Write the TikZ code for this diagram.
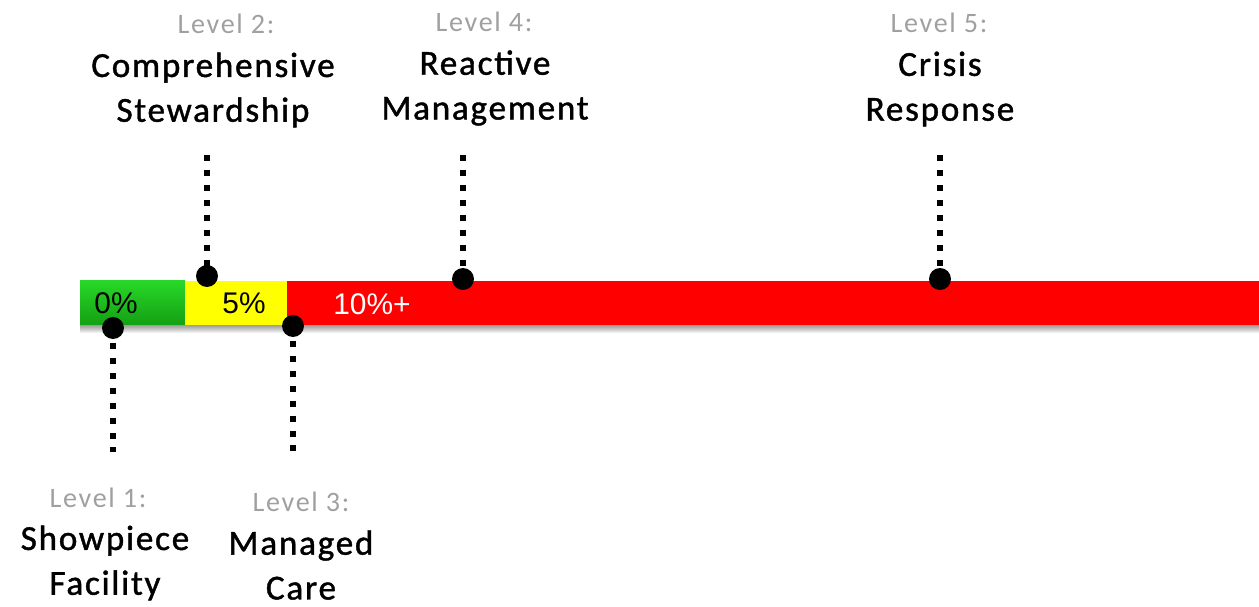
\documentclass[tikz,border=0pt]{standalone}
\usepackage{fontspec}
\setmainfont[LetterSpace=6]{Carlito}
\newfontfamily\namefont[LetterSpace=5, FakeBold=1.2]{Carlito}
\newfontfamily\pctfont{Liberation Sans}
\usetikzlibrary{positioning}

\definecolor{lowgreen}{RGB}{40,215,40}
\definecolor{darkgreen}{RGB}{20,160,20}
\definecolor{midyellow}{RGB}{255,255,0}
\definecolor{highred}{RGB}{255,0,0}
\definecolor{taggray}{RGB}{160,160,160}

\tikzset{
	leveltag/.style={text=taggray, font=\fontsize{16}{19}\selectfont, inner sep=0pt},
	levelname/.style={align=center, font=\namefont\fontsize{20}{25.5}\selectfont, inner sep=0pt},
	pct/.style={font=\pctfont\fontsize{17}{20}\selectfont, inner sep=0pt},
	pin/.style={circle, fill=black, minimum size=12.5pt, inner sep=0pt},
	dotline/.style={line width=3.4pt, dash pattern=on 3.4pt off 5.1pt}
}

\begin{document}
\begin{tikzpicture}[x=0.02cm, y=-0.02cm]
	\useasboundingbox (0,0) rectangle (1259,607);

	% Shadow under the bar
	\foreach \i in {1,...,8}
		\fill[black, opacity=0.06] (80,281+\i) rectangle (1259,325+\i);

	% Draw bar
	\shade[top color=lowgreen, bottom color=darkgreen] (80,281) rectangle (185,325);
	\fill[midyellow] (185,281) rectangle (287,325);
	\fill[highred] (287,281) rectangle (1259,325);

	% Percent labels
	\node[pct] (p0) at (116,303) {0\%};
	\node[pct] (p5) at (244,303) {5\%};
	\node[pct, text=white] (p10) at (372,304) {10\%+};

	% Pins on the bar
	\node[pin] (d1) at (113,328) {};
	\node[pin] (d2) at (207,276) {};
	\node[pin] (d3) at (293,326) {};
	\node[pin] (d4) at (463,279) {};
	\node[pin] (d5) at (940,279) {};

	% Ends of the dotted lines
	\coordinate (e1) at (113,452);
	\coordinate (e2) at (207,155);
	\coordinate (e3) at (293,452);
	\coordinate (e4) at (463,155);
	\coordinate (e5) at (940,155);

	\draw[dotline] (e2) -- (d2.center);
	\draw[dotline] (e4) -- (d4.center);
	\draw[dotline] (e5) -- (d5.center);
	\draw[dotline] (d1.center) -- (e1);
	\draw[dotline] (d3.center) -- (e3);

	% Labels above
	\node[leveltag] (t2) at (226,24) {Level 2:};
	\node[levelname] (n2) at (213,90) {Comprehensive\\Stewardship};
	\node[leveltag] (t4) at (484,22) {Level 4:};
	\node[levelname] (n4) at (485,88) {Reactive\\Management};
	\node[leveltag] (t5) at (939,23) {Level 5:};
	\node[levelname] (n5) at (940,89) {Crisis\\Response};

	% Labels below
	\node[leveltag] (t1) at (98,498) {Level 1:};
	\node[levelname] (n1) at (105,563) {Showpiece\\Facility};
	\node[leveltag] (t3) at (301,502) {Level 3:};
	\node[levelname] (n3) at (301,565) {Managed\\Care};
\end{tikzpicture}
\end{document}
